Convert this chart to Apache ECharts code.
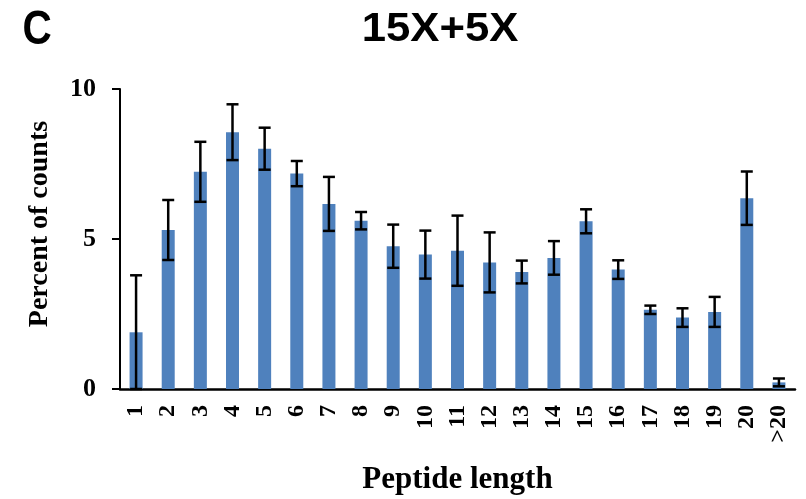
<!DOCTYPE html>
<html>
<head>
<meta charset="utf-8">
<script src="https://cdn.jsdelivr.net/npm/echarts@6/dist/echarts.min.js"></script>
<style>html,body{margin:0;padding:0;background:#fff}#c{width:806px;height:499px}</style>
</head>
<body>
<div id="c"></div>
<script>
const categories = ['1','2','3','4','5','6','7','8','9','10','11','12','13','14','15','16','17','18','19','20','>20'];
const values = [1.89, 5.30, 7.24, 8.56, 8.01, 7.18, 6.17, 5.61, 4.76, 4.48, 4.61, 4.22, 3.90, 4.37, 5.59, 3.98, 2.64, 2.38, 2.57, 6.36, 0.22];
const errors = [1.90, 1.00, 1.00, 0.93, 0.70, 0.42, 0.90, 0.29, 0.72, 0.80, 1.17, 1.00, 0.38, 0.56, 0.40, 0.31, 0.14, 0.31, 0.50, 0.89, 0.13];
const yTicks = [0, 5, 10];

const chart = echarts.init(document.getElementById('c'), null, {renderer: 'canvas'});
const serif = '"Liberation Serif", "Times New Roman", serif';
const sans = '"Liberation Sans", Arial, sans-serif';

const errData = values.map((v, i) => [i, Math.max(0, v - errors[i]), v + errors[i]]);

chart.setOption({
  animation: false,
  backgroundColor: '#fff',
  graphic: [
    {type: 'text', x: 37, y: 31, scaleX: 0.9, scaleY: 1.05, style: {text: 'C', font: 'bold 45px ' + sans, fill: '#000', textAlign: 'center', textVerticalAlign: 'middle'}},
    {type: 'text', x: 440, y: 30, scaleX: 1.12, scaleY: 1.05, style: {text: '15X+5X', font: 'bold 39px ' + sans, fill: '#000', textAlign: 'center', textVerticalAlign: 'middle'}}
  ],
  grid: {left: 120, right: 11, top: 89, bottom: 110, containLabel: false, outerBoundsMode: 'none'},
  xAxis: {
    type: 'category',
    data: categories,
    name: 'Peptide length',
    nameLocation: 'middle',
    nameGap: 75,
    nameTextStyle: {fontFamily: serif, fontWeight: 'bold', fontSize: 31, color: '#000'},
    axisLine: {lineStyle: {color: '#000', width: 2.5}},
    axisTick: {show: false},
    axisLabel: {rotate: 90, margin: 16, fontFamily: serif, fontWeight: 'bold', fontSize: 24, color: '#000', interval: 0}
  },
  yAxis: {
    type: 'value',
    min: 0, max: 10, interval: 5,
    name: 'Percent of counts',
    nameLocation: 'middle',
    nameGap: 66,
    nameRotate: 90,
    nameTextStyle: {fontFamily: serif, fontWeight: 'bold', fontSize: 28, color: '#000', padding: [0, 0, 0, 30]},
    axisLine: {show: true, lineStyle: {color: '#000', width: 2}},
    axisTick: {show: true, length: 8, lineStyle: {color: '#000', width: 2}},
    splitLine: {show: false},
    axisLabel: {margin: 24, fontFamily: serif, fontWeight: 'bold', fontSize: 26, color: '#000',
      formatter: v => yTicks.includes(v) ? String(v) : ''}
  },
  series: [
    {
      type: 'bar',
      data: values,
      barWidth: 13,
      itemStyle: {color: '#4F81BD'},
      z: 2
    },
    {
      type: 'custom',
      data: errData,
      z: 5,
      renderItem: function (params, api) {
        const i = api.value(0);
        const lo = api.coord([i, api.value(1)]);
        const hi = api.coord([i, api.value(2)]);
        const hw = 6;
        const st = {stroke: '#000', lineWidth: 2.5};
        return {
          type: 'group',
          children: [
            {type: 'line', shape: {x1: hi[0], y1: hi[1], x2: lo[0], y2: lo[1]}, style: st},
            {type: 'line', shape: {x1: hi[0] - hw, y1: hi[1], x2: hi[0] + hw, y2: hi[1]}, style: st},
            {type: 'line', shape: {x1: lo[0] - hw, y1: lo[1], x2: lo[0] + hw, y2: lo[1]}, style: st}
          ]
        };
      }
    }
  ]
});
</script>
</body>
</html>
